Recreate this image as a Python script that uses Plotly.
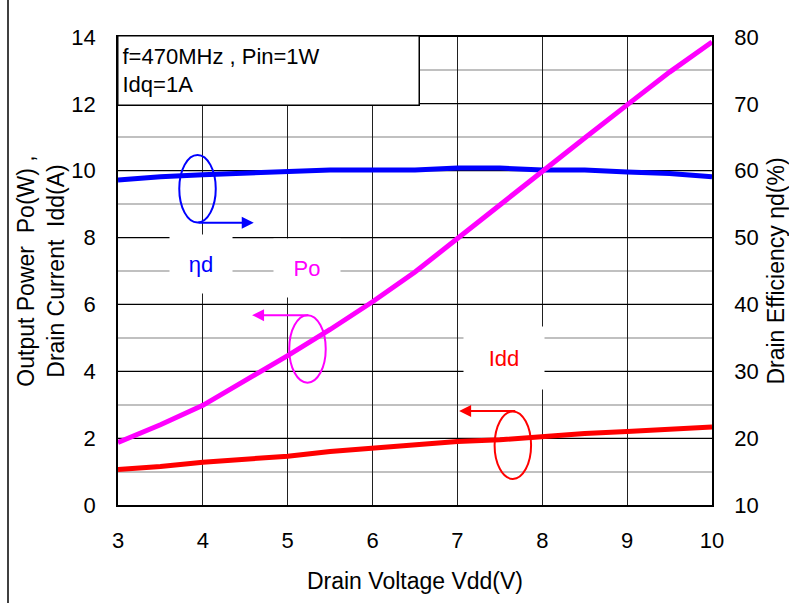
import plotly.graph_objects as go

# Drain voltage sweep (V)
vdd = [3, 3.5, 4, 4.5, 5, 5.5, 6, 6.5, 7, 7.5, 8, 8.5, 9, 9.5, 10]
# Output power Po (W)
po = [1.87, 2.4, 2.98, 3.72, 4.47, 5.25, 6.08, 6.97, 7.98, 8.97, 9.97, 10.98, 11.97, 12.95, 13.85]
# Drain current Idd (A)
idd = [1.06, 1.15, 1.28, 1.36, 1.46, 1.6, 1.7, 1.8, 1.9, 1.95, 2.05, 2.14, 2.2, 2.28, 2.33]
# Drain efficiency (%)
eff = [58.6, 59.1, 59.4, 59.6, 59.8, 60.1, 60.1, 60.1, 60.4, 60.4, 60.1, 60.1, 59.8, 59.6, 59.1]

x_ticks = [3, 4, 5, 6, 7, 8, 9, 10]
left_ticks = [0, 2, 4, 6, 8, 10, 12, 14]
right_ticks = [10, 20, 30, 40, 50, 60, 70, 80]

FONT = "Arial, Liberation Sans, sans-serif"
BLUE = "#0000FF"
MAGENTA = "#FF00FF"
RED = "#FF0000"

fig = go.Figure()

# efficiency on the primary (right-hand) axis so power/current draw above it
fig.add_trace(go.Scatter(x=vdd, y=eff, mode="lines", yaxis="y",
                         line=dict(color=BLUE, width=5), showlegend=False))
fig.add_trace(go.Scatter(x=vdd, y=idd, mode="lines", yaxis="y2",
                         line=dict(color=RED, width=5), showlegend=False))
fig.add_trace(go.Scatter(x=vdd, y=po, mode="lines", yaxis="y2",
                         line=dict(color=MAGENTA, width=5), showlegend=False))

# axis-pointer ellipses and arrows (left-axis units)
shapes = []
ellipses = [
    (3.937, 9.46, BLUE),
    (5.233, 4.67, MAGENTA),
    (7.653, 1.79, RED),
]
for cx, cy, col in ellipses:
    shapes.append(dict(type="circle", xref="x", yref="y2",
                       x0=cx - 0.215, x1=cx + 0.215, y0=cy - 1.01, y1=cy + 1.01,
                       line=dict(color=col, width=2)))

# outer frame line on the left edge of the page
shapes.append(dict(type="line", xref="paper", yref="paper",
                   x0=(8 - 118) / 594, x1=(8 - 118) / 594, y0=-98 / 468, y1=505 / 468,
                   line=dict(color="#404040", width=2)))

annotations = []
arrows = [
    (3.93, 8.44, 4.6, BLUE),
    (5.26, 5.68, 4.58, MAGENTA),
    (7.70, 2.81, 7.02, RED),
]
for xs, ys, xe, col in arrows:
    annotations.append(dict(x=xe, y=ys, xref="x", yref="y2", ax=xs, ay=ys,
                            axref="x", ayref="y2", text="", showarrow=True,
                            arrowhead=2, arrowsize=1.2, arrowwidth=2, arrowcolor=col))

# series labels on white patches
labels = [
    ("ηd", 3.98, 7.2, BLUE, 60, 56),
    ("Po", 5.23, 7.1, MAGENTA, 64, 56),
    ("Idd", 7.55, 4.4, RED, 78, 60),
]
for txt, lx, ly, col, w, h in labels:
    annotations.append(dict(x=lx, y=ly, xref="x", yref="y2", text=txt, showarrow=False,
                            font=dict(family=FONT, size=22, color=col),
                            bgcolor="white", width=w, height=h))

# condition box
annotations.append(dict(x=(117 - 118) / 594, y=(505 - 35) / 468, xref="paper", yref="paper",
                        xanchor="left", yanchor="top", showarrow=False, align="left",
                        text="f=470MHz , Pin=1W<br>Idq=1A",
                        font=dict(family=FONT, size=22, color="black"),
                        bgcolor="white", bordercolor="black", borderwidth=1.5, borderpad=4,
                        width=292, height=60))

fig.update_layout(
    width=789, height=603,
    margin=dict(l=118, r=77, t=37, b=98),
    paper_bgcolor="white", plot_bgcolor="white",
    font=dict(family=FONT, size=22, color="black"),
    showlegend=False,
    xaxis=dict(range=[3, 10], tickvals=x_ticks, showgrid=True, gridcolor="#202020", gridwidth=1,
               showline=True, linecolor="black", linewidth=2, mirror=True,
               ticks="", ticklabelstandoff=15, zeroline=False, automargin=False,
               title=dict(text="Drain Voltage Vdd(V)", standoff=20,
                          font=dict(family=FONT, size=23))),
    yaxis=dict(range=[10, 80], tickvals=right_ticks, side="right", showgrid=False,
               showline=True, linecolor="black", linewidth=1.5, ticks="",
               ticklabelstandoff=16, zeroline=False, automargin=False,
               title=dict(text="Drain Efficiency ηd(%)", standoff=10,
                          font=dict(family=FONT, size=23))),
    yaxis2=dict(range=[0, 14], tickvals=left_ticks, side="left", overlaying="y",
                showgrid=True, gridcolor="black", gridwidth=1,
                minor=dict(dtick=1, showgrid=True, gridcolor="#C0C0C0", gridwidth=1.5),
                showline=True, linecolor="black", linewidth=1.5, ticks="",
                ticklabelstandoff=16, zeroline=False, automargin=False,
                title=dict(text="Output Power  Po(W) ,<br>Drain Current  Idd(A)", standoff=0,
                           font=dict(family=FONT, size=23))),
    shapes=shapes,
    annotations=annotations,
)

fig.write_html("out.html")
